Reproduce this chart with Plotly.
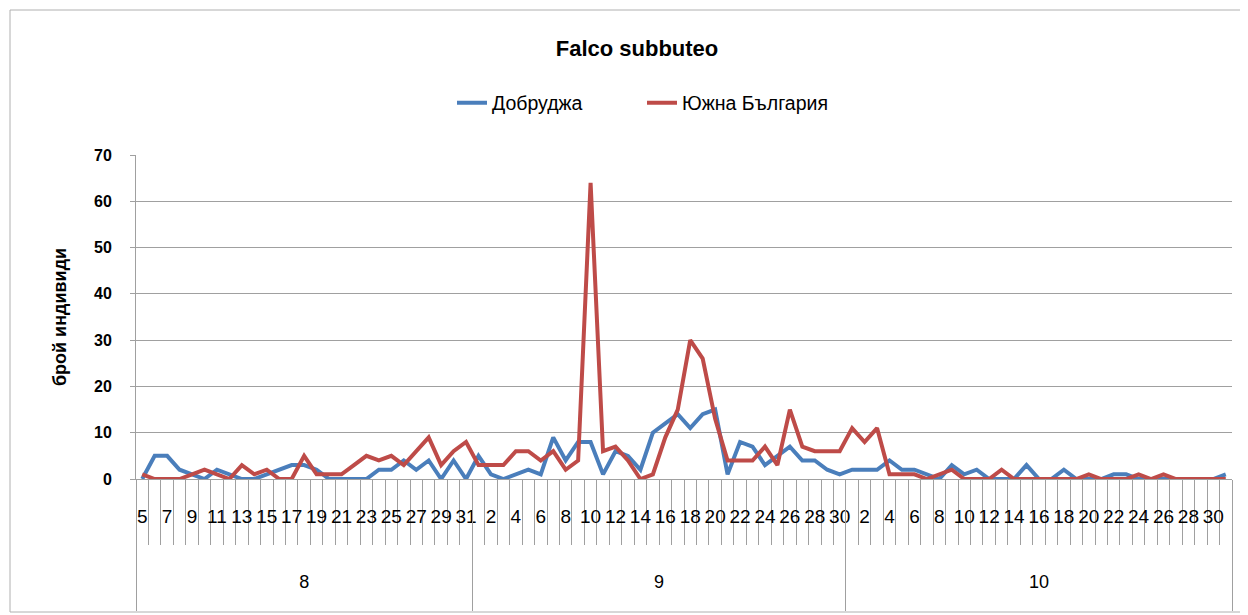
import plotly.graph_objects as go

# ---- data ----
months = ["8", "9", "10"]
aug_days = list(range(5, 32))
sep_days = list(range(1, 31))
oct_days = list(range(1, 32))

dobrudzha_aug = [0, 5, 5, 2, 1, 0, 2, 1, 0, 0, 1, 2, 3, 3, 2, 0, 0, 0, 0, 2, 2, 4, 2, 4, 0, 4, 0]
dobrudzha_sep = [5, 1, 0, 1, 2, 1, 9, 4, 8, 8, 1, 6, 5, 2, 10, 12, 14, 11, 14, 15, 1, 8, 7, 3, 5, 7, 4, 4, 2, 1]
dobrudzha_oct = [2, 2, 2, 4, 2, 2, 1, 0, 3, 1, 2, 0, 0, 0, 3, 0, 0, 2, 0, 0, 0, 1, 1, 0, 0, 0, 0, 0, 0, 0, 1]

south_aug = [1, 0, 0, 0, 1, 2, 1, 0, 3, 1, 2, 0, 0, 5, 1, 1, 1, 3, 5, 4, 5, 3, 6, 9, 3, 6, 8]
south_sep = [3, 3, 3, 6, 6, 4, 6, 2, 4, 64, 6, 7, 4, 0, 1, 9, 15, 30, 26, 13, 4, 4, 4, 7, 3, 15, 7, 6, 6, 6]
south_oct = [11, 8, 11, 1, 1, 1, 0, 1, 2, 0, 0, 0, 2, 0, 0, 0, 0, 0, 0, 1, 0, 0, 0, 1, 0, 1, 0, 0, 0, 0, 0]

series_names = ["Добруджа", "Южна България"]
series_colors = ["#4A7EBB", "#BE4B48"]

title_text = "Falco subbuteo"
y_title = "брой индивиди"

# ---- derived ----
days = aug_days + sep_days + oct_days
month_sizes = [len(aug_days), len(sep_days), len(oct_days)]
xpos = list(range(len(days)))
dobrudzha = dobrudzha_aug + dobrudzha_sep + dobrudzha_oct
south = south_aug + south_sep + south_oct

day_tickvals = xpos[::2]
day_ticktext = [str(days[i]) for i in day_tickvals]
boundaries = [i - 0.5 for i in xpos] + [len(xpos) - 0.5]

month_centers = []
month_bounds = [-0.5]
start = 0
for n in month_sizes:
    month_centers.append(start + (n - 1) / 2)
    start += n
    month_bounds.append(start - 0.5)

FONT = "Liberation Sans"
GRID = "#A0A0A0"

# page is offset by 8px body margin; layout numbers are in figure coords
L, T, PW, PH = 128, 147, 1096, 324
W, H = 1248, 615

fig = go.Figure()
for name, vals, col in zip(series_names, [dobrudzha, south], series_colors):
    fig.add_trace(go.Scatter(x=xpos, y=vals, mode="lines", name=name,
                             line=dict(color=col, width=4), xaxis="x", yaxis="y"))

# invisible trace to activate month axis
fig.add_trace(go.Scatter(x=[xpos[0]], y=[None], xaxis="x2", yaxis="y",
                         showlegend=False, hoverinfo="skip"))

xr = [-0.5, len(xpos) - 0.5]
fig.update_layout(
    width=W, height=H,
    margin=dict(l=L, r=W - L - PW, t=T, b=H - T - PH),
    paper_bgcolor="white", plot_bgcolor="white",
    font=dict(family=FONT, color="black"),
    title=dict(text="<b>%s</b>" % title_text, x=629 / W, xanchor="center",
               y=1 - 40 / H, yanchor="middle", font=dict(size=22, family=FONT)),
    legend=dict(orientation="h", x=(444 - L) / PW, xanchor="left",
                y=(T + PH - 95) / PH, yanchor="middle", font=dict(size=19.5, family=FONT),
                bgcolor="rgba(0,0,0,0)", entrywidth=145, entrywidthmode="pixels"),
    showlegend=True,
    xaxis=dict(range=xr, tickmode="array", tickvals=day_tickvals, ticktext=day_ticktext,
               ticks="", showgrid=False, zeroline=False, showline=True,
               linecolor=GRID, linewidth=1,
               tickfont=dict(size=19, family=FONT),
               ticklabelstandoff=20,
               minor=dict(tickmode="array", tickvals=boundaries, ticks="outside",
                          ticklen=65, tickcolor=GRID, tickwidth=1, showgrid=False)),
    xaxis2=dict(range=xr, overlaying="x", anchor="y", side="bottom",
                tickmode="array", tickvals=month_centers, ticktext=months,
                ticks="", showgrid=False, zeroline=False, showline=False,
                ticklabelstandoff=90,
                tickfont=dict(size=18, family=FONT),
                minor=dict(tickmode="array", tickvals=month_bounds, ticks="outside",
                           ticklen=131, tickcolor=GRID, tickwidth=1, showgrid=False)),
    yaxis=dict(range=[0, 70], dtick=10, tick0=0, showgrid=True, gridcolor=GRID,
               gridwidth=1, zeroline=False, showline=True, linecolor=GRID,
               ticks="outside", ticklen=5, tickcolor=GRID,
               tickfont=dict(size=16, family=FONT),
               tickprefix="<b>", ticksuffix="</b>",
               ticklabelstandoff=15,
               title=dict(text="<b>%s</b>" % y_title, font=dict(size=18, family=FONT),
                          standoff=22)),
)

# outer chart border
fig.add_shape(type="rect", xref="paper", yref="paper",
              x0=(2 - L) / PW, x1=(1237 - L) / PW,
              y0=(T + PH - 604) / PH, y1=(T + PH - 2) / PH,
              line=dict(color="#B0B0B0", width=1), fillcolor="rgba(0,0,0,0)", layer="below")

fig.write_html("out.html")
